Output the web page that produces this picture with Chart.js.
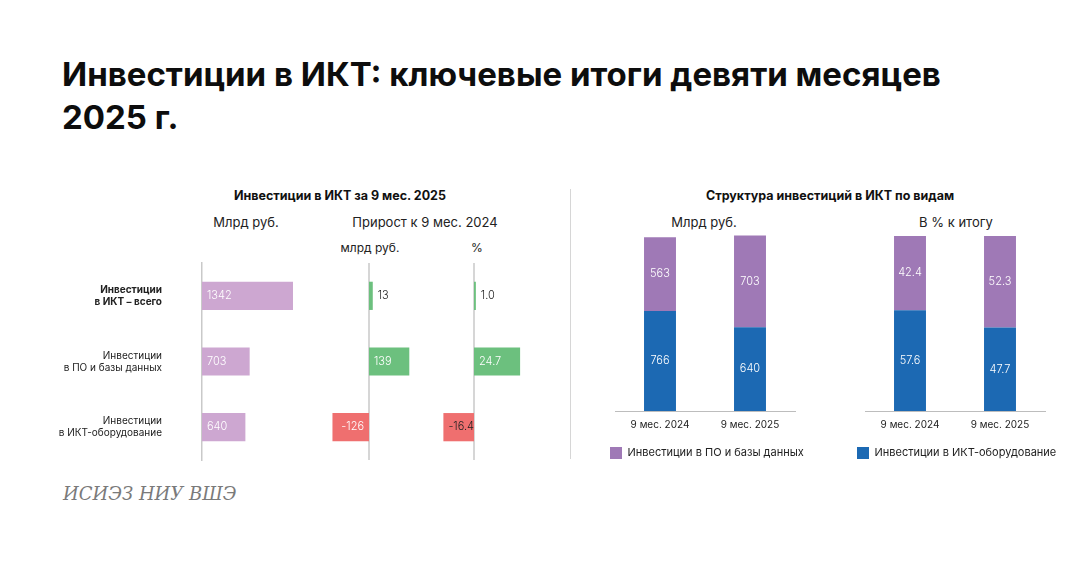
<!DOCTYPE html>
<html lang="ru">
<head>
<meta charset="utf-8">
<script src="https://cdn.jsdelivr.net/npm/chart.js@4.4.1/dist/chart.umd.min.js"></script>
<style>
body { margin:0; background:#fff; font-family: Inter, "Noto Sans", sans-serif; color:#111; }
#page { position:relative; width:1069px; height:564px; overflow:hidden; }
.t { position:absolute; white-space:nowrap; line-height:16px; }
.ctr { transform:translateX(-50%); }
canvas { position:absolute; }
</style>
</head>
<body>
<div id="page">
  <div class="t" style="left:62px;top:53px;font-size:33px;font-weight:700;line-height:43px;color:#0d0d0d">Инвестиции в ИКТ: ключевые итоги девяти месяцев<br>2025 г.</div>

  <div class="t ctr" style="left:340px;top:188px;font-size:12.5px;font-weight:700">Инвестиции в ИКТ за 9 мес. 2025</div>
  <div class="t ctr" style="left:246px;top:214px;font-size:13px;color:#222">Млрд руб.</div>
  <div class="t ctr" style="left:425px;top:214px;font-size:13px;color:#222">Прирост к 9 мес. 2024</div>
  <div class="t ctr" style="left:370px;top:240px;font-size:12px;color:#222">млрд руб.</div>
  <div class="t ctr" style="left:477px;top:240px;font-size:12px;color:#222">%</div>

  <div style="position:absolute;left:570px;top:189px;width:1px;height:270px;background:#d6d6d6"></div>

  <div class="t ctr" style="left:830px;top:188px;font-size:12.5px;font-weight:700">Структура инвестиций в ИКТ по видам</div>
  <div class="t ctr" style="left:704px;top:214px;font-size:13px;color:#222">Млрд руб.</div>
  <div class="t ctr" style="left:956px;top:214px;font-size:13px;color:#222">В % к итогу</div>

  <div class="t" style="left:63px;top:484px;font-size:18px;font-style:italic;font-family:'DejaVu Serif',serif;color:#7a7a7a;line-height:20px">ИСИЭЗ НИУ ВШЭ</div>

  <canvas id="cTotal" width="252" height="301" style="left:50px;top:211px"></canvas>
  <canvas id="cGrowth" width="116" height="197" style="left:311px;top:263px"></canvas>
  <canvas id="cPct" width="112" height="197" style="left:418px;top:263px"></canvas>
  <canvas id="cStructBn" width="215" height="254" style="left:602px;top:215px"></canvas>
  <canvas id="cStructPct" width="225" height="254" style="left:849px;top:215px"></canvas>
</div>

<script>
// данные
const rowLabels = [['Инвестиции', 'в ИКТ – всего'], ['Инвестиции', 'в ПО и базы данных'], ['Инвестиции', 'в ИКТ-оборудование']]
const invest2025 = [1342, 703, 640]
const growthBn = [13, 139, -126]
const growthPct = [1.0, 24.7, -16.4]

const periods = ['9 мес. 2024', '9 мес. 2025']
const seriesNames = ['Инвестиции в ПО и базы данных', 'Инвестиции в ИКТ-оборудование']
const softBn = [563, 703]
const hardBn = [766, 640]
const softPct = [42.4, 52.3]
const hardPct = [57.6, 47.7]

const LILAC = '#cda7d1'
const GREEN = '#6cc07e'
const RED = '#ef6f6f'
const PURPLE = '#9f79b6'
const BLUE = '#1c69b3'
const AXIS = '#c9c9c9'

Chart.defaults.font.family = 'Inter, "Noto Sans", sans-serif'
Chart.defaults.color = '#222'
Chart.defaults.animation = false

// подписи значений на столбцах
const valueLabels = {
    id: 'valueLabels',
    afterDatasetsDraw(chart, args, opts) {
        let ctx = chart.ctx
        chart.data.datasets.forEach((ds, di) => {
            let meta = chart.getDatasetMeta(di)
            meta.data.forEach((bar, i) => {
                let v = ds.data[i]
                let txt = opts.decimals ? v.toFixed(opts.decimals) : String(v)
                ctx.save()
                ctx.font = '300 11px Inter, "Noto Sans", sans-serif'
                ctx.textBaseline = 'middle'
                let w = ctx.measureText(txt).width
                if (chart.options.indexAxis === 'y') {
                    let len = Math.abs(bar.x - bar.base)
                    if (len >= w + 8) {
                        ctx.fillStyle = '#fff'
                        if (v >= 0) {
                            ctx.textAlign = 'left'
                            ctx.fillText(txt, bar.base + 5, bar.y)
                        } else {
                            ctx.textAlign = 'right'
                            ctx.fillText(txt, bar.base - 5, bar.y)
                        }
                    } else {
                        ctx.fillStyle = '#222'
                        ctx.textAlign = 'left'
                        ctx.fillText(txt, bar.x + 5, bar.y)
                    }
                } else {
                    ctx.fillStyle = '#fff'
                    ctx.textAlign = 'center'
                    ctx.fillText(txt, bar.x, (bar.y + bar.base) / 2)
                }
                ctx.restore()
            })
        })
    }
}

// нулевая линия для графиков прироста
const zeroLine = {
    id: 'zeroLine',
    beforeDatasetsDraw(chart) {
        let x = chart.scales.x.getPixelForValue(0)
        let ctx = chart.ctx
        ctx.save()
        ctx.strokeStyle = AXIS
        ctx.lineWidth = 1.5
        ctx.beginPath()
        ctx.moveTo(x, chart.chartArea.top)
        ctx.lineTo(x, chart.chartArea.bottom)
        ctx.stroke()
        ctx.restore()
    }
}

function hBar(id, data, colors, min, max, decimals, withLabels) {
    return new Chart(id, {
        type: 'bar',
        data: {
            labels: rowLabels,
            datasets: [{
                data: data,
                backgroundColor: colors,
                barPercentage: 0.43,
                categoryPercentage: 1
            }]
        },
        options: {
            indexAxis: 'y',
            responsive: false,
            layout: { padding: 0 },
            plugins: {
                legend: { display: false },
                tooltip: { enabled: false },
                valueLabels: { decimals: decimals }
            },
            scales: {
                x: { display: false, min: min, max: max },
                y: withLabels ? {
                    grid: { display: false, drawTicks: false },
                    border: { display: true, color: AXIS, width: 1.5 },
                    ticks: {
                        padding: 40,
                        color: '#222',
                        font: c => ({ size: 10, weight: c.index === 0 ? 'bold' : 'normal', lineHeight: 1.2 })
                    },
                    afterFit(s) { s.width = 152 }
                } : { display: false }
            }
        },
        plugins: withLabels ? [valueLabels] : [valueLabels, zeroLine]
    })
}

hBar('cTotal', invest2025, LILAC, 0, 1475, 0, true)
hBar('cGrowth', growthBn, growthBn.map(v => v >= 0 ? GREEN : RED), -200, 200, 0, false)
hBar('cPct', growthPct, growthPct.map(v => v >= 0 ? GREEN : RED), -30, 30, 1, false)

function stacked(id, soft, hard, max, decimals, showIdx, leftW, rightW) {
    return new Chart(id, {
        type: 'bar',
        data: {
            labels: periods,
            datasets: [
                { label: seriesNames[1], data: hard, backgroundColor: BLUE, barPercentage: 0.355, categoryPercentage: 1 },
                { label: seriesNames[0], data: soft, backgroundColor: PURPLE, barPercentage: 0.355, categoryPercentage: 1 }
            ]
        },
        options: {
            responsive: false,
            layout: { padding: 0 },
            plugins: {
                tooltip: { enabled: false },
                valueLabels: { decimals: decimals },
                legend: {
                    position: 'bottom',
                    align: 'start',
                    labels: {
                        boxWidth: 12,
                        boxHeight: 12,
                        padding: 8,
                        color: '#222',
                        font: { size: 11 },
                        filter: item => item.datasetIndex === showIdx
                    }
                }
            },
            scales: {
                x: {
                    stacked: true,
                    grid: { display: false, drawTicks: false },
                    border: { display: true, color: '#bdbdbd', width: 1 },
                    ticks: { padding: 8, font: { size: 10 }, color: '#222' }
                },
                y: {
                    stacked: true,
                    min: 0,
                    max: max,
                    grid: { display: false, drawTicks: false },
                    border: { display: false },
                    ticks: { display: false },
                    afterFit(s) { s.width = leftW }
                },
                yR: {
                    position: 'right',
                    grid: { display: false, drawTicks: false },
                    border: { display: false },
                    ticks: { display: false },
                    afterFit(s) { s.width = rightW }
                }
            }
        },
        plugins: [valueLabels]
    })
}

stacked('cStructBn', softBn, hardBn, 1500, 0, 1, 13, 22)
stacked('cStructPct', softPct, hardPct, 112, 1, 0, 16, 29)
</script>
</body>
</html>
